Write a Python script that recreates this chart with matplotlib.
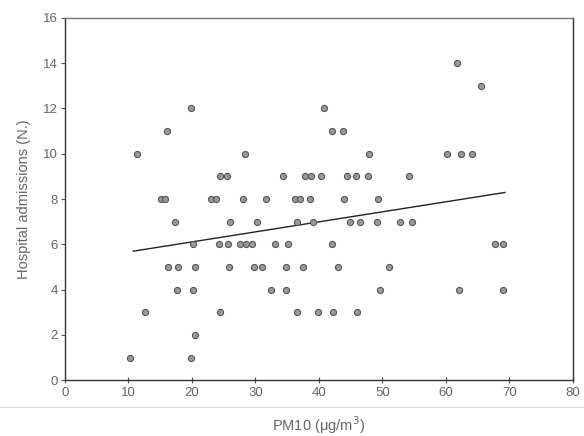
import matplotlib
matplotlib.use("Agg")
import matplotlib.pyplot as plt
import numpy as np
from matplotlib.lines import Line2D

plt.rcParams["font.family"] = ["Liberation Sans", "DejaVu Sans"]

# PM10 (x) values grouped by number of hospital admissions (y)
admissions = [14, 13, 12, 11, 10, 9, 8, 7, 6, 5, 4, 3, 2, 1]
pm10_by_admissions = [
    [61.8],
    [65.6],
    [19.8, 40.8],
    [16.1, 42.1, 43.8],
    [11.3, 28.3, 47.9, 60.1, 62.4, 64.1],
    [24.4, 25.6, 34.3, 37.8, 38.8, 40.4, 44.4, 45.9, 47.8, 54.2],
    [15.2, 15.8, 23.0, 23.8, 28.1, 31.7, 36.2, 37.1, 38.6, 43.9, 49.3],
    [17.3, 26.0, 30.3, 36.5, 39.1, 44.9, 46.5, 49.2, 52.8, 54.6],
    [20.2, 24.3, 25.7, 27.6, 28.5, 29.4, 33.1, 35.2, 42.0, 67.8, 69.0],
    [16.3, 17.8, 20.5, 25.9, 29.8, 31.0, 34.9, 37.5, 43.0, 51.0],
    [17.6, 20.2, 32.5, 34.8, 49.7, 62.1, 69.0],
    [12.7, 24.4, 36.6, 39.9, 42.3, 46.0],
    [20.5],
    [10.2, 19.8],
]

# regression line
fit_intercept = 5.22
fit_slope = 0.0443

x = np.array([v for row in pm10_by_admissions for v in row])
y = np.array([a for a, row in zip(admissions, pm10_by_admissions) for _ in row])

fig = plt.figure(figsize=(5.84, 4.36), dpi=100)
ax = fig.add_axes([0.111, 0.128, 0.870, 0.831])

ax.plot(x, y, "o", markersize=4.4, markerfacecolor="#9a9a9a",
        markeredgecolor="#555555", markeredgewidth=0.8, zorder=3)

xs = np.array([x.min() + 0.6, x.max() + 0.3])
ax.plot(xs, fit_intercept + fit_slope * xs, color="#222222", lw=1.0, zorder=2)

ax.set_xlim(0, 80)
ax.set_ylim(0, 16)
ax.set_xticks(range(0, 81, 10))
ax.set_yticks(range(0, 17, 2))

text_col = "#666666"
ax.tick_params(axis="x", direction="inout", length=4, width=0.8,
               labelsize=9.5, labelcolor=text_col, colors="#555555", pad=3)
ax.tick_params(axis="y", direction="out", length=3, width=0.8,
               labelsize=9.5, labelcolor=text_col, colors="#555555", pad=2)
for s in ax.spines.values():
    s.set_color("#333333")
    s.set_linewidth(1.0)
ax.spines["top"].set_color("#777777")

ax.set_xlabel("PM10 (\u03bcg/m$^3$)", fontsize=10.5, color=text_col, labelpad=11)
ax.set_ylabel("Hospital admissions (N.)", fontsize=10.5, color=text_col, labelpad=9)

# faint scan line under the tick labels
fig.add_artist(Line2D([0.0, 1.0], [1 - 407 / 436, 1 - 407 / 436],
                      transform=fig.transFigure, color="#dddddd", lw=0.8))

fig.savefig("out.png", dpi=100)
